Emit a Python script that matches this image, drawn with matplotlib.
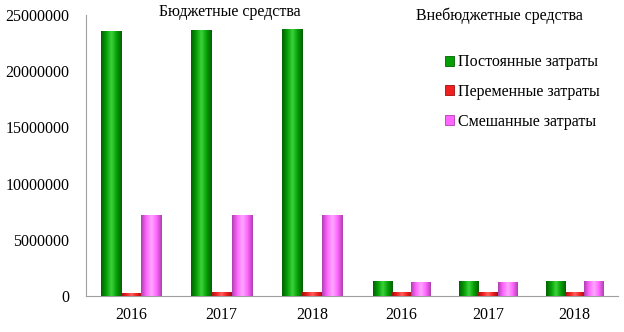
import numpy as np
import matplotlib.pyplot as plt
from matplotlib.patches import Patch
from matplotlib.colors import LinearSegmentedColormap

plt.rcParams['font.family'] = ['Liberation Serif', 'DejaVu Serif']

years = ["2016", "2017", "2018"]
groups = ["Бюджетные средства", "Внебюджетные средства"]
series = ["Постоянные затраты", "Переменные затраты", "Смешанные затраты"]

# budget funds
budget_fixed = [23500000, 23580000, 23670000]
budget_var = [200000, 280000, 280000]
budget_mixed = [7120000, 7120000, 7120000]
# extra-budgetary funds
extra_fixed = [1250000, 1330000, 1330000]
extra_var = [300000, 300000, 300000]
extra_mixed = [1160000, 1160000, 1250000]

data = [[budget_fixed, budget_var, budget_mixed],
        [extra_fixed, extra_var, extra_mixed]]

face = ["#05A005", "#F02020", "#FF66FF"]
dark = ["#046004", "#A01010", "#B040B0"]
light = ["#3CD23C", "#FF6060", "#FFA8FF"]

fig = plt.figure(figsize=(6.24, 3.32), dpi=100)
ax1 = fig.add_axes([0.138, 0.108, 0.434, 0.847])
ax2 = fig.add_axes([0.574, 0.108, 0.416, 0.847], sharey=ax1)

x = np.arange(len(years))
w = 0.222

for ax, grp, vals in zip([ax1, ax2], groups, data):
    for i, v in enumerate(vals):
        bars = ax.bar(x + (i - 1) * w, v, width=w, color=face[i],
                      edgecolor=dark[i], linewidth=0.6, zorder=2)
        cmap = LinearSegmentedColormap.from_list(
            "c", [dark[i], face[i], light[i], face[i], dark[i]])
        grad = np.linspace(0, 1, 64).reshape(1, -1)
        for b in bars:
            ax.imshow(grad, cmap=cmap, aspect="auto", zorder=3,
                      extent=[b.get_x(), b.get_x() + b.get_width(),
                              0, b.get_height()])
    ax.set_xlim(-0.5, 2.5)
    ax.set_xticks(x)
    ax.set_xticklabels(years)
    ax.tick_params(axis="both", length=0, labelsize=11.5, pad=8)
    for s in ["top", "right"]:
        ax.spines[s].set_visible(False)
    ax.spines["bottom"].set_color("#A0A0A0")
    ax.spines["left"].set_color("#A0A0A0")

ax1.set_ylim(0, 25000000)
ax1.set_yticks(np.arange(0, 25000001, 5000000))
ax1.set_yticklabels([str(v) for v in range(0, 25000001, 5000000)])
ax1.tick_params(axis="y", pad=12)
ax2.spines["left"].set_visible(False)
ax2.tick_params(axis="y", left=False, labelleft=False)

fig.text(0.369, 0.965, groups[0], ha="center", va="center", fontsize=11.5)
fig.text(0.80, 0.952, groups[1], ha="center", va="center", fontsize=11.5)

handles = [Patch(facecolor=face[i], edgecolor=dark[i], linewidth=0.6)
           for i in range(3)]
fig.legend(handles, series, loc="center left", bbox_to_anchor=(0.700, 0.723),
           frameon=False, fontsize=11.5, handlelength=0.6, handleheight=0.6,
           handletextpad=0.2, labelspacing=0.85, borderpad=0)

plt.savefig("out.png", dpi=100)
